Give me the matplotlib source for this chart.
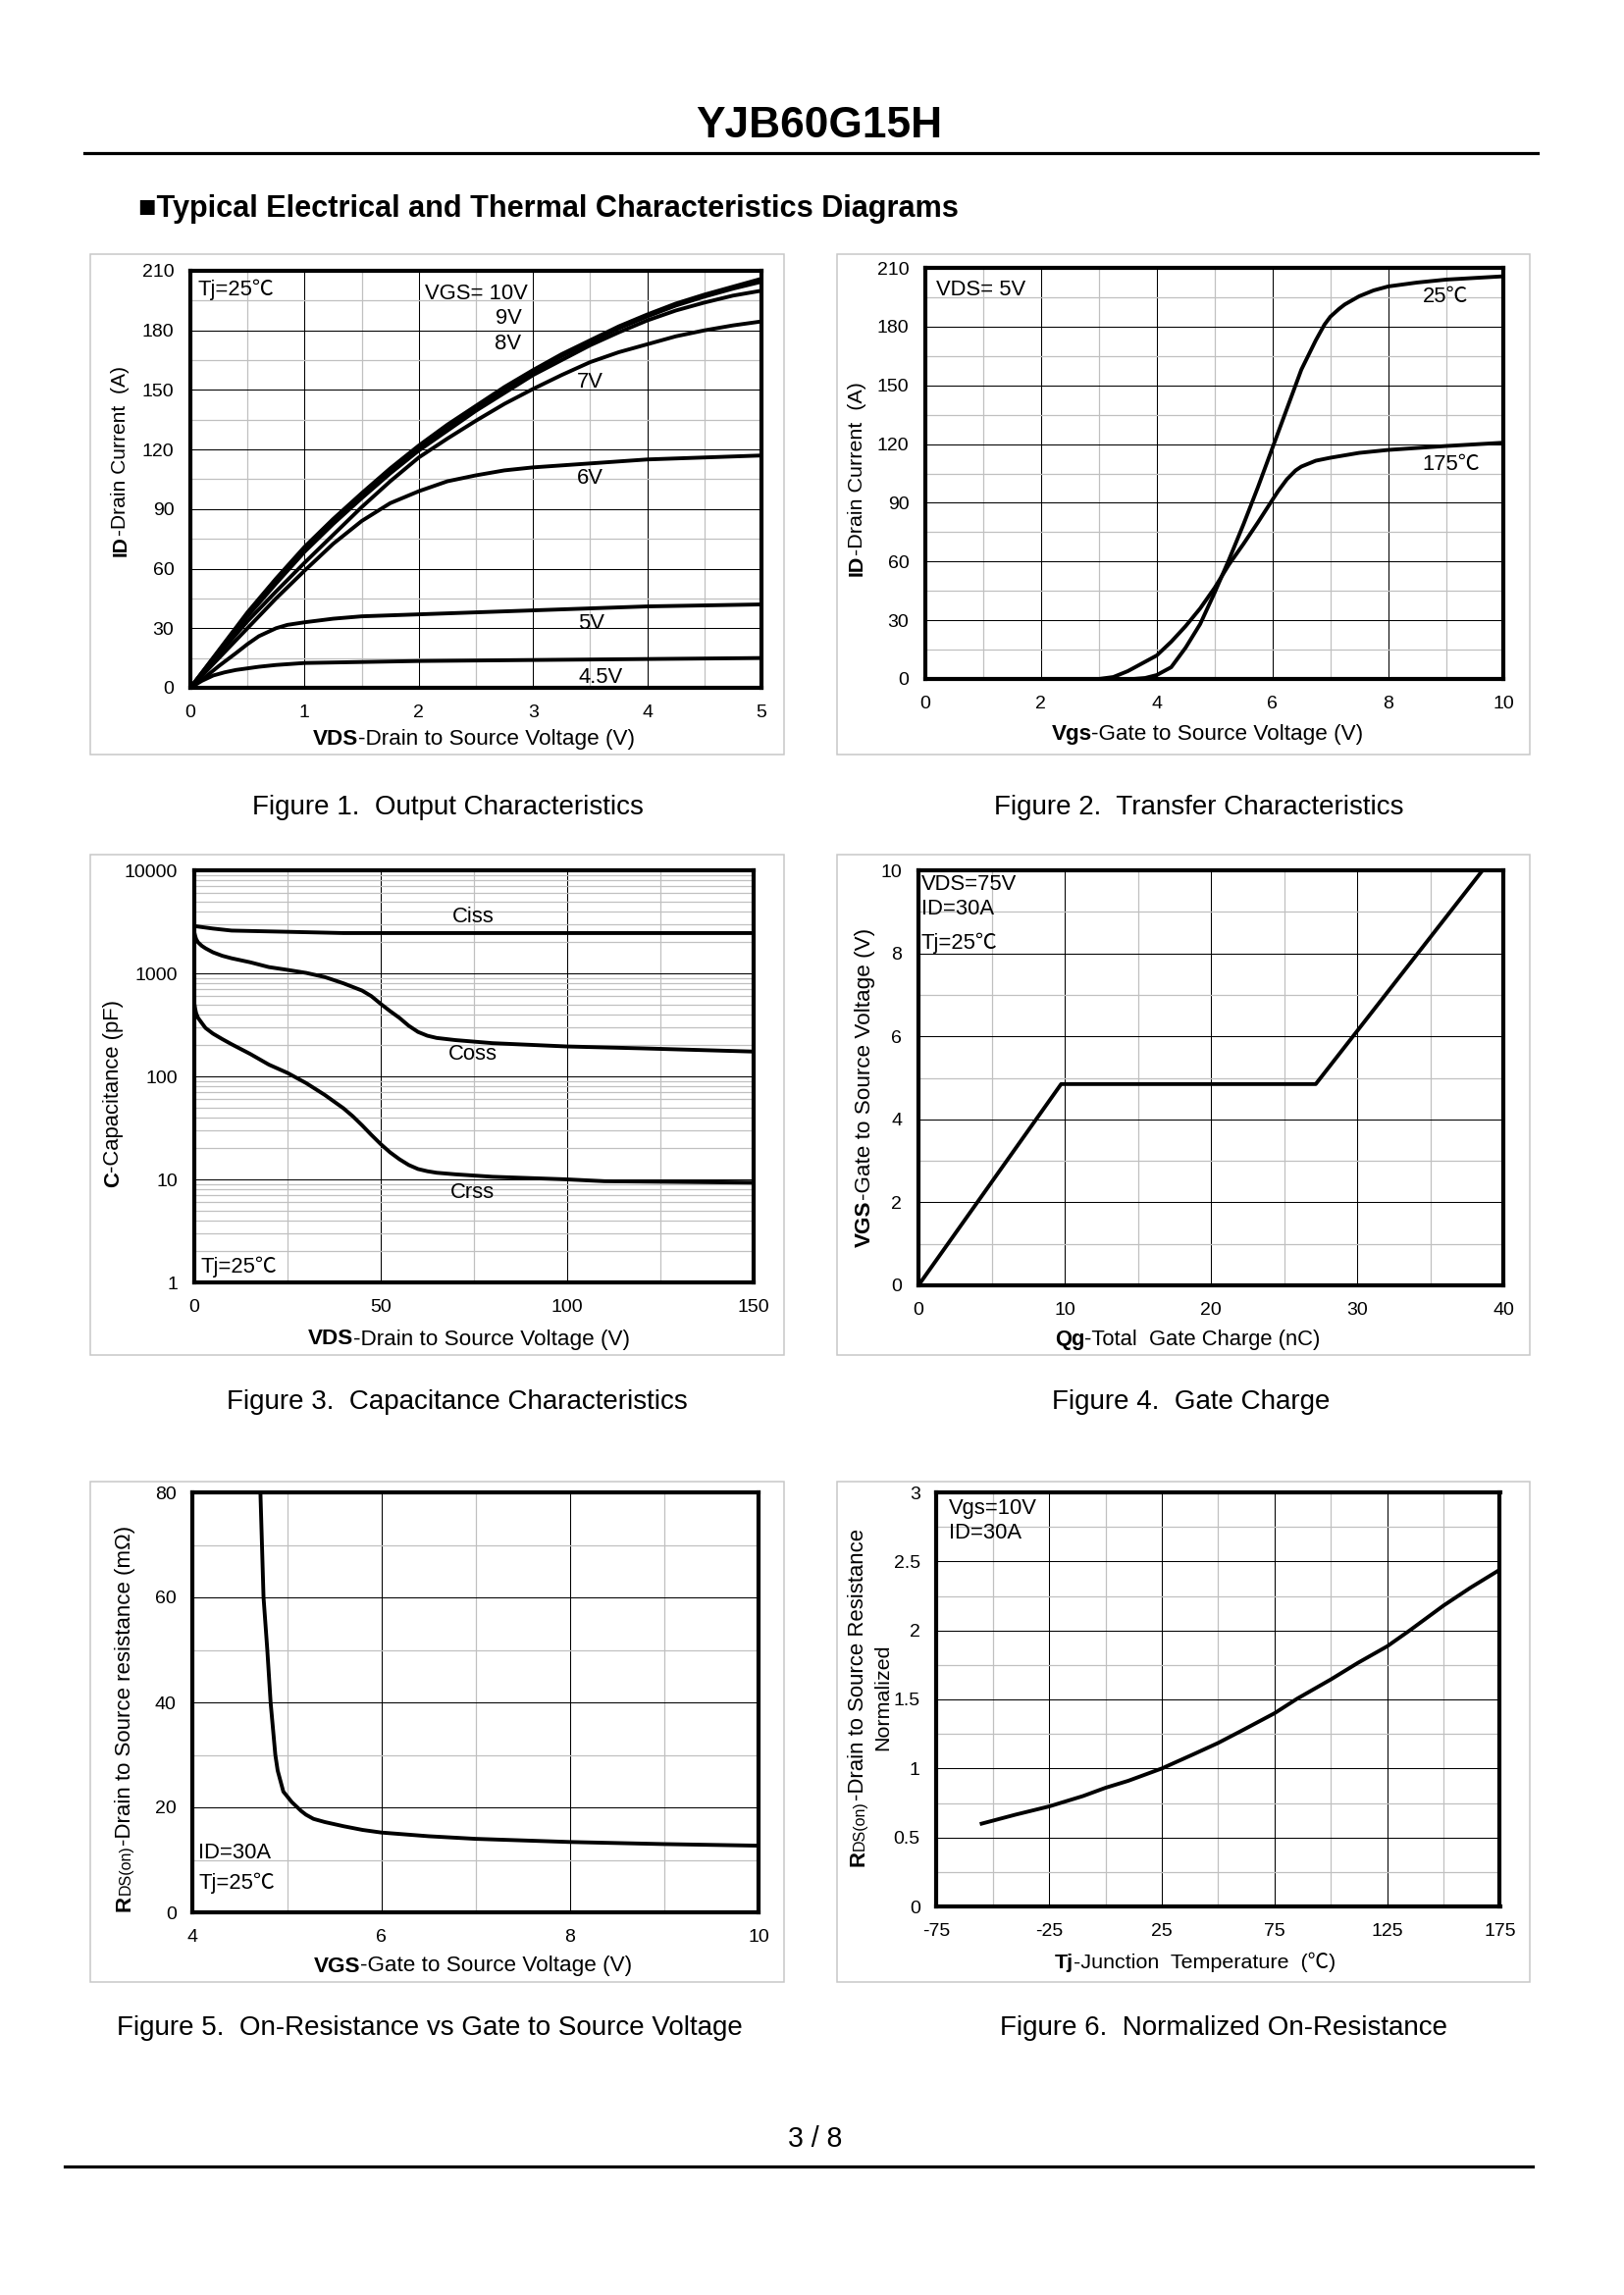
# coding: utf-8

"""Page 3 of the YJB60G15H datasheet: the six characteristic diagrams."""

from matplotlib import pyplot as plt
from matplotlib.lines import Line2D
from matplotlib.patches import Rectangle
from matplotlib.ticker import LogLocator

# Figure 1, output characteristics
vds_fine = [0, .25, .5, .75, 1, 1.25, 1.5, 1.75, 2, 2.25, 2.5, 2.75, 3, 3.25, 3.5,
            3.75, 4, 4.25, 4.5, 4.75, 5]
id_10v = [0, 19, 38, 55, 71, 85, 98, 110.5, 122, 132.5, 142, 151.5, 160, 168, 175,
          182, 188, 193.5, 198, 202, 206]
id_9v = [0, 18.5, 37, 54, 70, 84, 97, 109.5, 121, 131.5, 141, 150.5, 159, 167,
         174, 181, 187, 192.5, 197, 201, 204.5]
id_8v = [0, 18, 36, 52.5, 68.5, 82.5, 95.5, 108, 119.5, 129.5, 139.5, 148.5, 157.5, 165,
         172.5, 179, 185, 190, 194, 197.5, 200]
id_7v = [0, 17, 33.5, 48.5, 63, 77, 91, 104, 116, 125.5, 134.5, 143, 150.5, 157.5, 164,
         169, 173, 177, 180, 182.5, 184.5]
vds_6v = [0, .25, .5, .75, 1, 1.25, 1.5, 1.75, 2, 2.25, 2.5, 2.75, 3, 3.5, 4, 4.5, 5]
id_6v = [0, 15, 30, 45, 59, 72.5, 84, 93, 99, 104, 107, 109.5, 111, 113, 115, 116, 117]
vds_5v = [0, .1, .25, .4, .5, .6, .75, .85, 1, 1.25, 1.5, 2, 3, 4, 5]
id_5v = [0, 4, 11, 17.5, 22, 26, 30, 31.7, 33, 34.8, 36, 37, 39, 41, 42]
vds_45v = [0, .1, .2, .3, .4, .6, .75, 1, 2, 3, 4, 5]
id_45v = [0, 3.5, 6.2, 7.8, 9, 10.6, 11.5, 12.5, 13.5, 14, 14.5, 15]

# Figure 2, transfer characteristics
vgs_25c = [0, 3.6, 3.8, 4, 4.25, 4.5, 4.75, 5, 5.25, 5.5, 5.75, 6, 6.25, 6.5, 6.75,
           6.9, 7, 7.15, 7.25, 7.5, 7.75, 8, 8.5, 9, 10]
id_25c = [0, 0, .5, 2, 6, 16, 28, 44, 61, 79, 98, 118, 138, 158, 173, 181, 185, 189,
          191.3, 195.5, 198.5, 200.5, 202.5, 204, 205.7]
vgs_175c = [0, 3, 3.25, 3.5, 3.75, 4, 4.25, 4.5, 4.75, 5, 5.25, 5.5, 5.75, 6, 6.1,
            6.25, 6.4, 6.5, 6.75, 7, 7.5, 8, 9, 10]
id_175c = [0, 0, 1, 4, 8, 12, 19, 27, 36, 46.5, 58.5, 69, 80, 91.5, 96, 102, 106.5,
           108.5, 111.5, 113, 115.5, 117, 119, 120.7]

# Figure 3, capacitance
vds_ciss = [0, 5, 10, 25, 40, 150]
ciss = [2877, 2720, 2600, 2530, 2460, 2460]
vds_coss = [0, .25, .5, 1, 2, 3, 5, 7.5, 10, 15, 20, 25, 30, 35, 40, 45, 47.5, 50,
            52.5, 55, 57.5, 60, 62.5, 65, 70, 80, 100, 120, 150]
coss = [2500, 2300, 2150, 2000, 1850, 1750, 1600, 1480, 1400, 1280, 1150, 1080, 1010,
        920, 800, 680, 600, 505, 430, 370, 310, 270, 248, 236, 225, 210, 195, 187, 174]
vds_crss = [0, .25, .5, 1, 2, 3, 5, 7.5, 10, 15, 20, 25, 30, 35, 40, 42.5, 45, 47.5,
            50, 52.5, 55, 57.5, 60, 62.5, 65, 70, 80, 100, 110, 150]
crss = [510, 450, 410, 370, 330, 295, 260, 230, 205, 165, 130, 108, 86, 66, 49, 41,
        33.5, 27, 22, 18.3, 15.7, 13.8, 12.6, 12, 11.6, 11.2, 10.6, 10, 9.6, 9.3]

# Figure 4, gate charge
qg = [0, 9.75, 27.15, 38.55]
vgs_qg = [0, 4.85, 4.85, 10]

# Figure 5, on-resistance against gate voltage
vgs_rds = [4.717, 4.75, 4.79, 4.825, 4.875, 4.9, 4.96, 5.05, 5.15, 5.2, 5.28, 5.4,
           5.6, 5.8, 6, 6.5, 7, 7.5, 8, 9, 10]
rds_vgs = [80, 60, 50, 40, 30, 27, 23, 21, 19.3, 18.6, 17.8, 17.2, 16.4, 15.7, 15.2,
           14.5, 14, 13.7, 13.4, 13, 12.7]

# Figure 6, normalized on-resistance
tj = [-55, -40, -25, -10, 0, 10, 25, 40, 50, 60, 75, 85, 100, 112, 125, 135, 150,
      162, 175]
rds_norm = [.6, .665, .725, .8, .86, .91, 1, 1.11, 1.185, 1.27, 1.4, 1.505, 1.645,
            1.765, 1.885, 2, 2.18, 2.31, 2.44]

WIDTH, HEIGHT = 1656, 2339
FONT = ['Liberation Sans', 'Noto Sans CJK SC', 'DejaVu Sans']
TICK_PX = 19.5
TEXT_PX = 22
CAPTION_PX = 27.8

plt.rcParams['font.family'] = FONT
plt.rcParams['axes.unicode_minus'] = False

fig = plt.figure(figsize=(WIDTH / 100, HEIGHT / 100), dpi=100)
renderer = fig.canvas.get_renderer()


def pt(size_px):
  return size_px * 0.72


def put(x, y, s, size=TEXT_PX, ha='left', weight='normal', rotation=0):
  """Places a text with its baseline at the given pixel position."""
  return fig.text(x / WIDTH, 1 - y / HEIGHT, s, fontsize=pt(size), ha=ha,
                  va='baseline', weight=weight, rotation=rotation,
                  rotation_mode='anchor')


def put_runs(x, y, runs, vertical=False):
  """Writes (text, weight, size) runs one after the other, centered on x, y."""
  texts = [put(0, 0, s, size, weight=w, rotation=90 if vertical else 0)
           for s, w, size in runs]
  lengths = []
  for t in texts:
    box = t.get_window_extent(renderer)
    lengths.append(box.height if vertical else box.width)
  pos = (y + sum(lengths) / 2) if vertical else (x - sum(lengths) / 2)
  for t, length in zip(texts, lengths):
    if vertical:
      t.set_position((x / WIDTH, 1 - pos / HEIGHT))
      pos -= length
    else:
      t.set_position((pos / WIDTH, 1 - y / HEIGHT))
      pos += length


def panel(frame, box, xlim, ylim, xticks, yticks, xminor, yminor):
  """Creates one diagram from its frame and outer box in pixels."""
  left, top, right, bottom = frame
  ax = fig.add_axes([left / WIDTH, 1 - bottom / HEIGHT,
                     (right - left) / WIDTH, (bottom - top) / HEIGHT])
  fig.add_artist(Rectangle((box[0] / WIDTH, 1 - box[3] / HEIGHT),
                           (box[2] - box[0]) / WIDTH, (box[3] - box[1]) / HEIGHT,
                           transform=fig.transFigure, fill=False,
                           edgecolor='#c8c8c8', linewidth=1.1))
  ax.set_xlim(xlim)
  ax.set_ylim(ylim)
  ax.set_xticks(xticks)
  ax.set_yticks(yticks)
  ax.set_xticks(xminor, minor=True)
  if yminor is not None:
    ax.set_yticks(yminor, minor=True)
  ax.grid(which='major', color='black', linewidth=0.75)
  ax.grid(which='minor', color='#c0c0c0', linewidth=0.9)
  ax.set_axisbelow(True)
  ax.tick_params(which='both', length=0)
  ax.tick_params(labelsize=pt(TICK_PX), pad=12)
  for spine in ax.spines.values():
    spine.set_linewidth(3)
  return ax


def curve(ax, x, y):
  ax.plot(x, y, color='black', linewidth=2.8, solid_joinstyle='round')


BOX_L = (92.5, 799.5)
BOX_R = (853.5, 1559.5)

# Page header and footer
fig.add_artist(Line2D([86 / WIDTH, 1567.5 / WIDTH], [1 - 155.5 / HEIGHT] * 2,
                      color='black', linewidth=2.3))
fig.add_artist(Line2D([66 / WIDTH, 1562 / WIDTH], [1 - 2207.5 / HEIGHT] * 2,
                      color='black', linewidth=2.3))
put(709, 140, 'YJB60G15H', size=44.3, weight='bold')
put(141, 220.5, '■Typical Electrical and Thermal Characteristics Diagrams',
    size=30.6, weight='bold')
put(803, 2188, '3 / 8', size=28.5)

# Figure 1
ax1 = panel((194, 276, 776, 701), (BOX_L[0], 259, BOX_L[1], 769), (0, 5), (0, 210),
            [0, 1, 2, 3, 4, 5], list(range(0, 211, 30)),
            [.5, 1.5, 2.5, 3.5, 4.5], list(range(15, 210, 30)))
for values in (id_10v, id_9v, id_8v, id_7v):
  curve(ax1, vds_fine, values)
curve(ax1, vds_6v, id_6v)
curve(ax1, vds_5v, id_5v)
curve(ax1, vds_45v, id_45v)
put(201.5, 300.5, 'Tj=25℃')
put(538, 305, 'VGS= 10V', ha='right')
put(531.5, 330, '9V', ha='right')
put(531.5, 355.5, '8V', ha='right')
put(588, 395, '7V')
put(588, 493.5, '6V')
put(589, 641, '5V')
put(590, 695.5, '4.5V')
put_runs(482.5, 759, [('VDS', 'bold', 22.5), ('-Drain to Source Voltage (V)', 'normal', 22.5)])
put_runs(128.5, 470, [('ID', 'bold', 21), ('-Drain Current  (A)', 'normal', 21)], True)
put(456, 830, 'Figure 1.  Output Characteristics', size=CAPTION_PX, ha='center')

# Figure 2
ax2 = panel((943, 273, 1532.5, 692), (BOX_R[0], 259, BOX_R[1], 769), (0, 10), (0, 210),
            [0, 2, 4, 6, 8, 10], list(range(0, 211, 30)),
            [1, 3, 5, 7, 9], list(range(15, 210, 30)))
curve(ax2, vgs_25c, id_25c)
curve(ax2, vgs_175c, id_175c)
put(954.5, 301, 'VDS= 5V')
put(1449.5, 308.5, '25℃')
put(1449.5, 479, '175℃')
put_runs(1230.5, 754, [('Vgs', 'bold', 22.5), ('-Gate to Source Voltage (V)', 'normal', 22.5)])
put_runs(879, 488, [('ID', 'bold', 21.5), ('-Drain Current  (A)', 'normal', 21.5)], True)
put(1222, 830, 'Figure 2.  Transfer Characteristics', size=CAPTION_PX, ha='center')

# Figure 3
ax3 = panel((198, 887, 768, 1307), (BOX_L[0], 871, BOX_L[1], 1381), (0, 150), (1, 10000),
            [0, 50, 100, 150], [1], [25, 75, 125], None)
ax3.set_yscale('log')
ax3.set_ylim(1, 10000)
ax3.set_yticks([1, 10, 100, 1000, 10000], ['1', '10', '100', '1000', '10000'])
ax3.yaxis.set_minor_locator(LogLocator(base=10, subs=range(2, 10), numticks=12))
ax3.yaxis.set_minor_formatter(plt.NullFormatter())
ax3.grid(which='major', color='black', linewidth=0.75)
ax3.grid(which='minor', color='#c0c0c0', linewidth=0.9)
ax3.tick_params(which='both', length=0)
curve(ax3, vds_ciss, ciss)
curve(ax3, vds_coss, coss)
curve(ax3, vds_crss, crss)
put(461, 940.5, 'Ciss')
put(457, 1080.5, 'Coss')
put(459, 1221, 'Crss')
put(205, 1297, 'Tj=25℃')
put_runs(477.5, 1370.5, [('VDS', 'bold', 22.5), ('-Drain to Source Voltage (V)', 'normal', 22.5)])
put_runs(121.5, 1114.5, [('C', 'bold', 22), ('-Capacitance (pF)', 'normal', 22)], True)
put(465.5, 1436, 'Figure 3.  Capacitance Characteristics', size=CAPTION_PX, ha='center')

# Figure 4
ax4 = panel((936, 887, 1532.5, 1310), (BOX_R[0], 871, BOX_R[1], 1381), (0, 40), (0, 10),
            [0, 10, 20, 30, 40], [0, 2, 4, 6, 8, 10], [5, 15, 25, 35], [1, 3, 5, 7, 9])
curve(ax4, qg, vgs_qg)
put(938.5, 907, 'VDS=75V')
put(939, 932.5, 'ID=30A')
put(939, 966.5, 'Tj=25℃')
put_runs(1210.5, 1371, [('Qg', 'bold', 22), ('-Total  Gate Charge (nC)', 'normal', 22)])
put_runs(887, 1108.5, [('VGS', 'bold', 22.5), ('-Gate to Source Voltage (V)', 'normal', 22.5)], True)
put(1213.5, 1436, 'Figure 4.  Gate Charge', size=CAPTION_PX, ha='center')

# Figure 5
ax5 = panel((196.5, 1521, 773, 1949), (BOX_L[0], 1509.5, BOX_L[1], 2020), (4, 10), (0, 80),
            [4, 6, 8, 10], [0, 20, 40, 60, 80], [5, 7, 9], [10, 30, 50, 70])
curve(ax5, vgs_rds, rds_vgs)
put(202.5, 1893.5, 'ID=30A')
put(202.5, 1924.5, 'Tj=25℃')
put_runs(482, 2009.5, [('VGS', 'bold', 22.5), ('-Gate to Source Voltage (V)', 'normal', 22.5)])
put_runs(133, 1751, [('R', 'bold', 22.3), ('DS(on)', 'normal', 16),
                     ('-Drain to Source resistance (mΩ)', 'normal', 22.3)], True)
put(438, 2074, 'Figure 5.  On-Resistance vs Gate to Source Voltage', size=CAPTION_PX, ha='center')

# Figure 6
ax6 = panel((954.5, 1521, 1528.5, 1943), (BOX_R[0], 1509.5, BOX_R[1], 2020), (-75, 175), (0, 3),
            [-75, -25, 25, 75, 125, 175], [0, .5, 1, 1.5, 2, 2.5, 3],
            [-50, 0, 50, 100, 150], [.25, .75, 1.25, 1.75, 2.25, 2.75])
ax6.set_yticklabels(['0', '0.5', '1', '1.5', '2', '2.5', '3'])
curve(ax6, tj, rds_norm)
put(967, 1543.5, 'Vgs=10V')
put(967, 1568.5, 'ID=30A')
put_runs(1218, 2006, [('Tj', 'bold', 21.5), ('-Junction  Temperature  (℃)', 'normal', 21.5)])
put_runs(880.5, 1730, [('R', 'bold', 22.2), ('DS(on)', 'normal', 16),
                       ('-Drain to Source Resistance', 'normal', 22.2)], True)
put_runs(905.5, 1730, [('Normalized', 'normal', 21.5)], True)
put(1247, 2074, 'Figure 6.  Normalized On-Resistance', size=CAPTION_PX, ha='center')

fig.savefig('out.png', dpi=100)
